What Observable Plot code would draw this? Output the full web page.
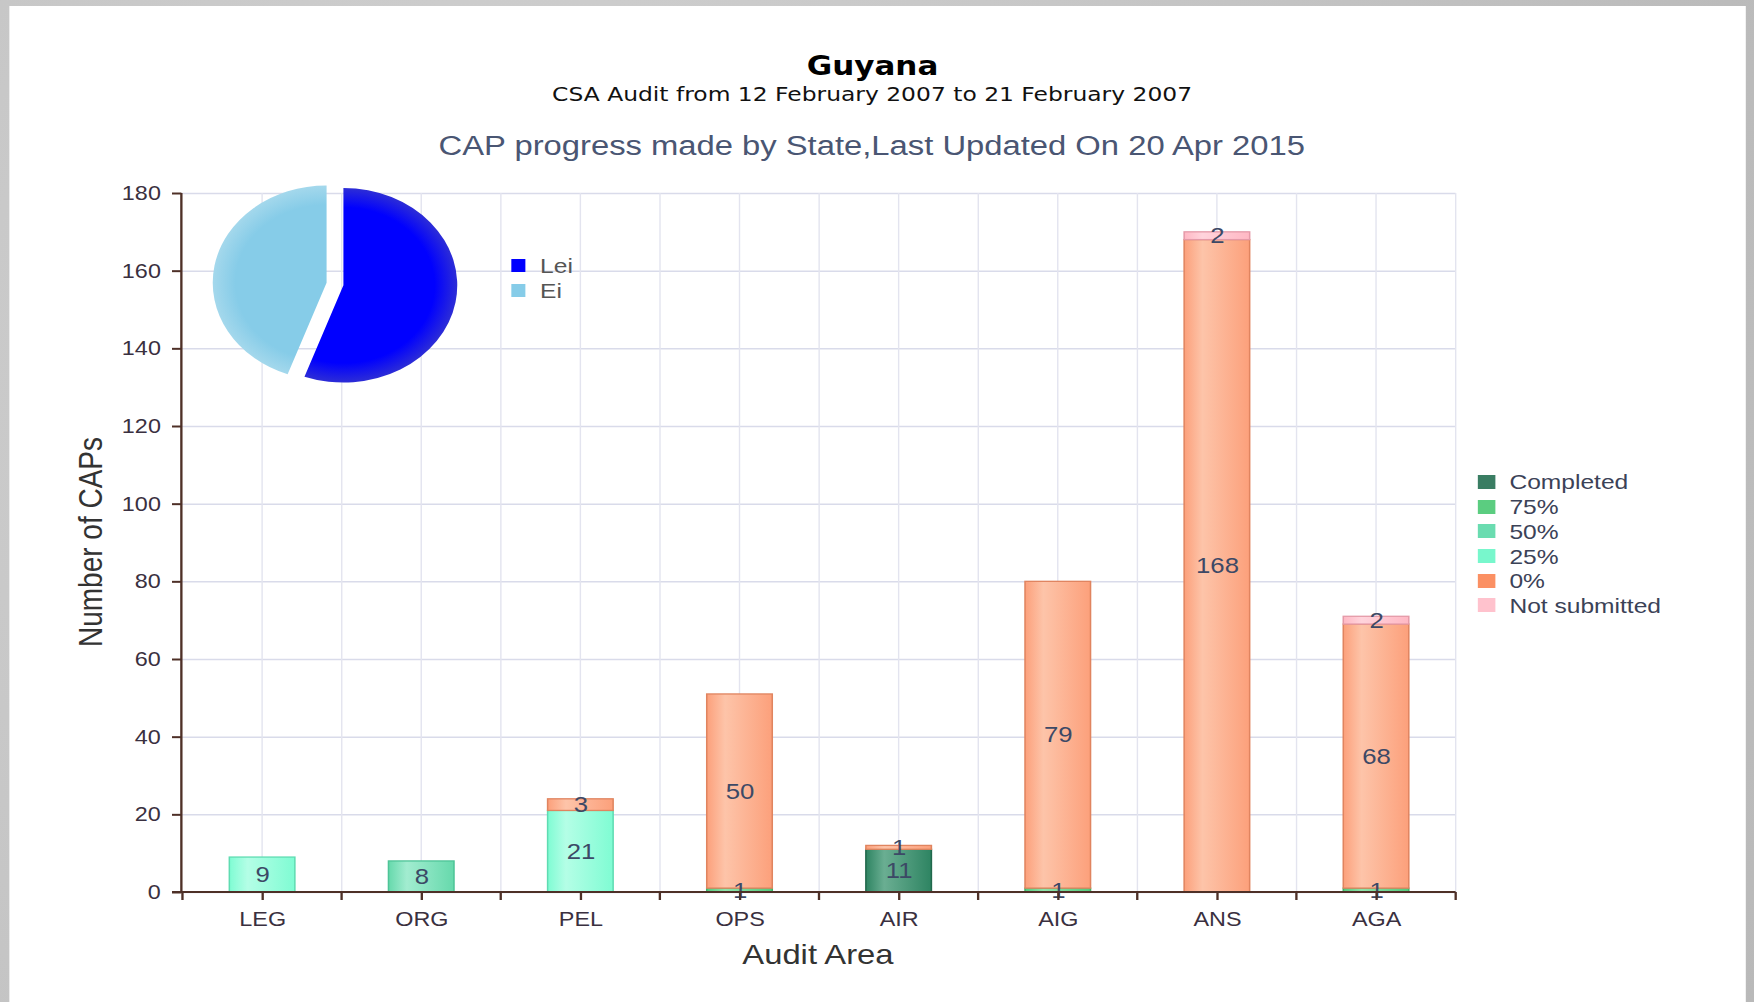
<!DOCTYPE html>
<html>
<head>
<meta charset="utf-8">
<script src="https://cdn.jsdelivr.net/npm/d3@7"></script>
<script src="https://cdn.jsdelivr.net/npm/@observablehq/plot@0.6"></script>
<style>
  html, body { margin: 0; padding: 0; width: 1754px; height: 1002px; overflow: hidden;
    background: radial-gradient(circle at 30% 40%, #d4d4d4, #b9b9b9); }
  #stage { position: absolute; left: 0; top: 0; width: 1499px; height: 1002px;
    transform: scaleX(1.1701); transform-origin: 0 0;
    font-family: "Liberation Sans", Arial, sans-serif; }
  #panel { position: absolute; left: 7.7px; top: 5.5px; width: 1484.6px; height: 1000px; background: #fff; }
  .txt { position: absolute; white-space: nowrap; line-height: 1; }
  #chart { position: absolute; left: 0; top: 160px; }
  .leg { position: absolute; white-space: nowrap; line-height: 1; }
  .sw { position: absolute; }
</style>
</head>
<body>
<div id="stage">
  <div id="panel"></div>
  <div id="chart"></div>
  <div id="overlay"></div>
</div>
<script>
// ---------- data ----------
const title = "Guyana";
const subtitle = "CSA Audit from 12 February 2007 to 21 February 2007";
const chartTitle = "CAP progress made by State,Last Updated On 20 Apr 2015";
const xLabel = "Audit Area";
const yLabel = "Number of CAPs";

const categories = ["LEG", "ORG", "PEL", "OPS", "AIR", "AIG", "ANS", "AGA"];
const statuses = ["Completed", "75%", "50%", "25%", "0%", "Not submitted"];
const completed    = [0, 0, 0, 0, 11, 0, 0, 0];
const pct75        = [0, 0, 0, 1, 0, 1, 0, 1];
const pct50        = [0, 8, 0, 0, 0, 0, 0, 0];
const pct25        = [9, 0, 21, 0, 0, 0, 0, 0];
const pct0         = [0, 0, 3, 50, 1, 79, 168, 68];
const notSubmitted = [0, 0, 0, 0, 0, 0, 2, 2];
const yTicks = [0, 20, 40, 60, 80, 100, 120, 140, 160, 180];

const pieLabels = ["Lei", "Ei"];
const pieValues = [5, 4];

// ---------- styles ----------
const barBase   = ["#2e8462", "#55c97c", "#66d9ac", "#7ffcd3", "#fca07b", "#ffb8c4"];
const barLight  = ["#6aae92", "#8fe3aa", "#a2ecd0", "#b4fee6", "#fdc4a9", "#ffd4dc"];
const barStroke = ["#21684c", "#3fb266", "#4ec497", "#5fdcb2", "#e0845f", "#e59aa8"];
const legendCol = ["#3a7d63", "#5bcd80", "#6adcb0", "#78f7cc", "#fb9063", "#ffc2cd"];
const pieBase   = ["#0000ff", "#86cce8"];
const pieEdge   = ["#2d2dd6", "#a4d8ec"];

const series = [completed, pct75, pct50, pct25, pct0, notSubmitted];
const rows = [];
categories.forEach((c, i) => {
  let acc = 0;
  series.forEach((s, k) => {
    const v = s[i];
    if (v > 0) { rows.push({cat: c, k, status: statuses[k], value: v, y1: acc, y2: acc + v}); acc += v; }
  });
});

const W = 1499, H = 842;
const axisColor = "#4e3027";
const textColor = "#3a3040";

function defsMark() {
  const g = d3.create("svg:g");
  const defs = g.append("defs");
  barBase.forEach((b, k) => {
    const lg = defs.append("linearGradient").attr("id", "bar" + k).attr("x1", 0).attr("x2", 1).attr("y1", 0).attr("y2", 0);
    lg.append("stop").attr("offset", "0%").attr("stop-color", b);
    lg.append("stop").attr("offset", "28%").attr("stop-color", barLight[k]);
    lg.append("stop").attr("offset", "100%").attr("stop-color", b);
  });
  pieBase.forEach((b, i) => {
    const rg = defs.append("radialGradient").attr("id", "pie" + i)
      .attr("gradientUnits", "userSpaceOnUse").attr("cx", 0).attr("cy", 0).attr("r", 97.3);
    rg.append("stop").attr("offset", "0%").attr("stop-color", b);
    rg.append("stop").attr("offset", "80%").attr("stop-color", b);
    rg.append("stop").attr("offset", "100%").attr("stop-color", pieEdge[i]);
  });
  return g.node();
}

function bandGeom(scales, dims) {
  const x = scales.x;
  const bw = x.bandwidth ? x.bandwidth() : 0;
  const step = (dims.width - dims.marginLeft - dims.marginRight) / categories.length;
  return {x, bw, step};
}

function vGridMark(index, scales, values, dims) {
  const {x, bw, step} = bandGeom(scales, dims);
  const g = d3.create("svg:g").attr("stroke", "#e3e4ef").attr("stroke-width", 1.2);
  const y0 = dims.marginTop, y1 = dims.height - dims.marginBottom;
  categories.forEach(c => {
    const cx = x(c) + bw / 2;
    [cx, cx + step / 2].forEach(px => g.append("line").attr("x1", px).attr("x2", px).attr("y1", y0).attr("y2", y1));
  });
  return g.node();
}

function axisLinesMark(index, scales, values, dims) {
  const {x, bw, step} = bandGeom(scales, dims);
  const g = d3.create("svg:g").attr("stroke", axisColor).attr("stroke-width", 2);
  const l = dims.marginLeft, r = dims.width - dims.marginRight;
  const t = dims.marginTop, b = dims.height - dims.marginBottom;
  g.append("line").attr("x1", l).attr("x2", l).attr("y1", t).attr("y2", b + 1);
  g.append("line").attr("x1", l - 8).attr("x2", r).attr("y1", b).attr("y2", b);
  categories.forEach((c, i) => {
    const bx = x(c) + bw / 2 - step / 2;
    g.append("line").attr("x1", bx).attr("x2", bx).attr("y1", b).attr("y2", b + 8);
    if (i === categories.length - 1) {
      const ex = bx + step;
      g.append("line").attr("x1", ex).attr("x2", ex).attr("y1", b).attr("y2", b + 8);
    }
  });
  return g.node();
}

function pieMark(index, scales, values, dims) {
  const g = d3.create("svg:g")
    .attr("transform", `translate(${dims.marginLeft + 131.3},${dims.marginTop + 91})`);
  const arcs = d3.pie().sort(null).value(d => d)(pieValues);
  const arc = d3.arc().innerRadius(0).outerRadius(97.3);
  arcs.forEach((a, i) => {
    const mid = (a.startAngle + a.endAngle) / 2;
    const dx = Math.sin(mid) * 7.3, dy = -Math.cos(mid) * 7.3;
    g.append("path").attr("transform", `translate(${dx},${dy})`)
      .attr("d", arc(a)).attr("fill", `url(#pie${i})`);
  });
  return g.node();
}

const chart = Plot.plot({
  width: W, height: H,
  marginLeft: 155, marginRight: 255, marginTop: 33, marginBottom: 110,
  style: {fontFamily: '"Liberation Sans", Arial, sans-serif', background: "transparent", overflow: "visible", color: textColor},
  x: {domain: categories, paddingInner: 0.59, paddingOuter: 0.295, label: null},
  y: {domain: [0, 180], label: null},
  marks: [
    defsMark,
    Plot.gridY(yTicks, {stroke: "#d9dbea", strokeOpacity: 1, strokeWidth: 1.5}),
    vGridMark,
    ...statuses.map((s, k) => Plot.barY(rows.filter(r => r.k === k), {
      x: "cat", y1: "y1", y2: "y2", fill: `url(#bar${k})`, stroke: barStroke[k], strokeWidth: 1.3
    })),
    Plot.text(rows, {x: "cat", y: d => (d.y1 + d.y2) / 2, text: d => String(d.value), fontSize: 22, fill: "#3c4966"}),
    Plot.axisY({ticks: yTicks, tickSize: 8, tickPadding: 10, fontSize: 20, stroke: axisColor, fill: textColor, strokeWidth: 2, label: null}),
    Plot.axisX({tickSize: 8, tickPadding: 11, fontSize: 20, stroke: axisColor, fill: textColor, strokeWidth: 2, label: null}),
    axisLinesMark,
    pieMark
  ]
});
document.getElementById("chart").appendChild(chart);

// ---------- titles, axis titles, legends ----------
const ov = document.getElementById("overlay");
function addText(str, opts) {
  const d = document.createElement("div");
  d.className = "txt";
  d.textContent = str;
  Object.assign(d.style, opts);
  ov.appendChild(d);
  return d;
}
// baseline positioning: top = baseline - 0.846*fs
addText(title, {left: "745.7px", top: (75.5 - 0.846 * 26.5) + "px", fontSize: "26.5px", fontWeight: "bold",
  fontFamily: '"DejaVu Sans", Verdana, sans-serif', color: "#000", transform: "translateX(-50%)"});
addText(subtitle, {left: "745.3px", top: (100.5 - 0.846 * 20) + "px", fontSize: "20px",
  fontFamily: '"DejaVu Sans", Verdana, sans-serif', color: "#111", transform: "translateX(-50%)"});
addText(chartTitle, {left: "745.3px", top: (156 - 0.846 * 27) + "px", fontSize: "27px",
  color: "#4a5673", transform: "translateX(-50%) scaleX(1.037)", transformOrigin: "50% 50%"});
addText(xLabel, {left: "699px", top: (955 - 14) + "px", fontSize: "28px", color: "#333", transform: "translateX(-50%)"});
addText(yLabel, {left: "78px", top: "542px", fontSize: "28px", color: "#333",
  transform: "translate(-50%,-50%) rotate(-90deg)"});

// right legend
const legRows = [481.7, 506.7, 531.2, 556, 580.7, 605.2];
statuses.forEach((s, k) => {
  const sw = document.createElement("div");
  sw.className = "sw";
  Object.assign(sw.style, {left: "1263px", top: (legRows[k] - 7) + "px", width: "14.5px", height: "14px", background: legendCol[k]});
  ov.appendChild(sw);
  const t = document.createElement("div");
  t.className = "leg";
  t.textContent = s;
  Object.assign(t.style, {left: "1290px", top: (legRows[k] - 10.3) + "px", fontSize: "21px", color: "#3b4257"});
  ov.appendChild(t);
});
// pie legend
const pieRows = [265, 290];
pieLabels.forEach((s, i) => {
  const sw = document.createElement("div");
  sw.className = "sw";
  Object.assign(sw.style, {left: "436.5px", top: (pieRows[i] - 6) + "px", width: "12.5px", height: "12.5px", background: pieBase[i]});
  ov.appendChild(sw);
  const t = document.createElement("div");
  t.className = "leg";
  t.textContent = s;
  Object.assign(t.style, {left: "461.6px", top: (pieRows[i] - 10.3) + "px", fontSize: "21px", color: "#555"});
  ov.appendChild(t);
});
</script>
</body>
</html>
